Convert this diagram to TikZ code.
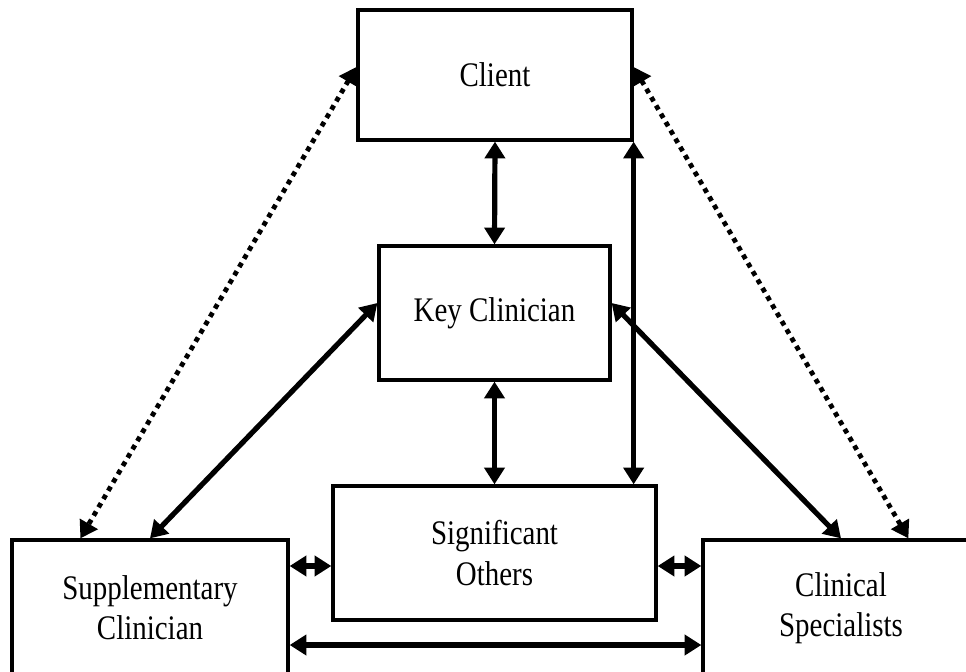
\documentclass[tikz,border=0pt]{standalone}
\usepackage{fontspec}
\setmainfont[FakeStretch=0.84]{Liberation Serif}
\usetikzlibrary{arrows.meta,calc}

\begin{document}
\begin{tikzpicture}[x=0.025cm,y=0.025cm,
    >={Triangle[width=0.5cm,length=0.42cm]},
    box/.style={draw,line width=0.08cm,align=center,font=\fontsize{24.5}{28.5}\selectfont},
    link/.style={<->,line width=0.13cm},
    dots/.style={<->,line width=0.12cm,dash pattern=on 0.12cm off 0.12cm}]
      \clip (0,0) rectangle (966,671);
      \node (client) [box,minimum width=6.85cm,minimum height=3.25cm] at (495,596) {Client};
      \node (key) [box,minimum width=5.775cm,minimum height=3.35cm] at (494.5,358) {Key Clinician};
      \node (sig) [box,minimum width=8.075cm,minimum height=3.35cm] at (494.5,118) {Significant\\Others};
      \node (supp) [box,minimum width=6.9cm,minimum height=3.4cm] at (150,63) {Supplementary\\Clinician};
      \node (spec) [box,minimum width=6.9cm,minimum height=3.4cm] at (841,63) {Clinical\\Specialists};
      \draw [link] (client.south) -- (key.north);
      \draw [link] (key.south) -- (sig.north);
      \draw [link] (client.south east) -- (client.south east |- sig.north);
      \draw [dots] ([yshift=0.2cm]client.west) -- ([xshift=1.75cm]supp.north west);
      \draw [dots] ([yshift=0.2cm]client.east) -- ([xshift=5.175cm]spec.north west);
      \draw [link] ([yshift=0.25cm]key.west) -- (supp.north);
      \draw [link] ([yshift=0.25cm]key.east) -- (spec.north);
      \draw [link] ([yshift=-0.325cm]sig.west) -- ([yshift=-0.325cm]sig.west -| supp.east);
      \draw [link] ([yshift=-0.325cm]sig.east) -- ([yshift=-0.325cm]sig.east -| spec.west);
      \draw [link] ([yshift=-0.925cm]supp.east) -- ([yshift=-0.925cm]supp.east -| spec.west);
  \end{tikzpicture}
\end{document}
